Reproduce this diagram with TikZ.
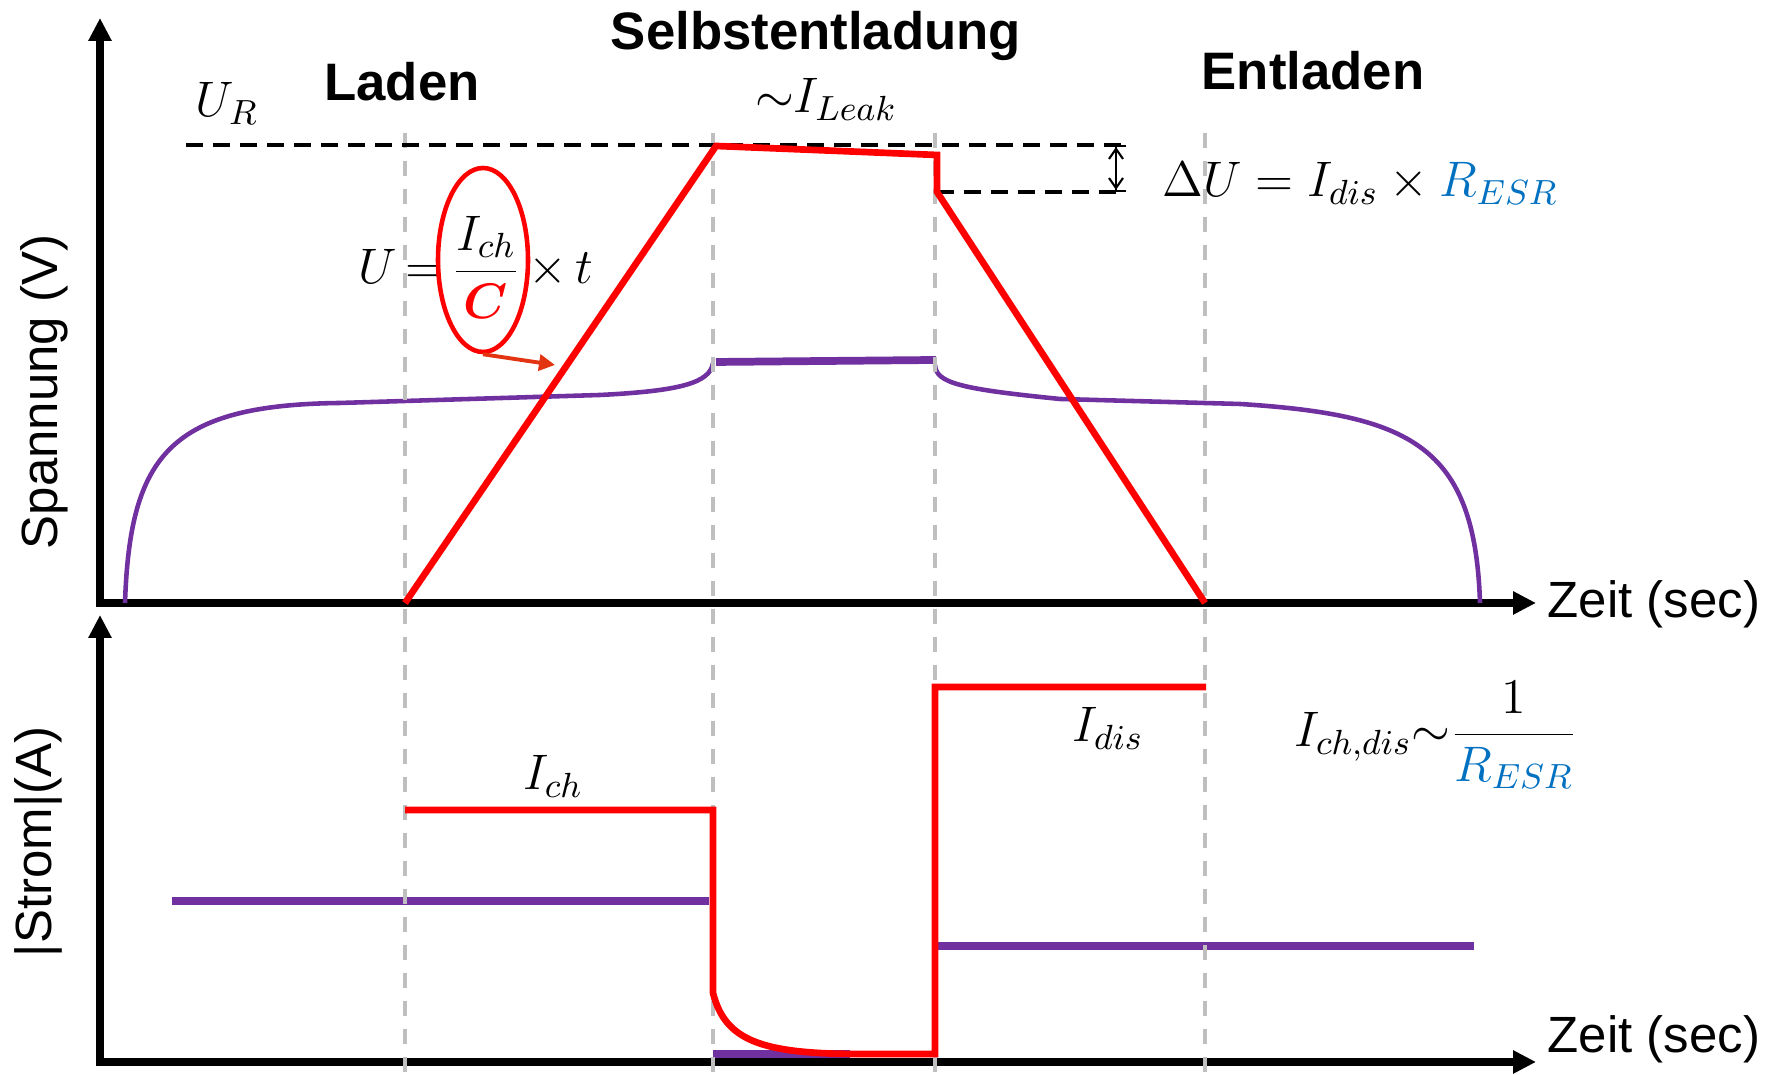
\documentclass[tikz,border=0pt]{standalone}
\usepackage{fix-cm}
\usepackage[no-math]{fontspec}
\setmainfont{Liberation Sans}
\usepackage{bm}
\usetikzlibrary{arrows.meta,shapes.geometric}
\definecolor{esrblue}{RGB}{0,112,192}
\definecolor{cappurple}{RGB}{112,48,160}
\definecolor{phasegray}{RGB}{191,191,191}
\definecolor{notered}{RGB}{226,52,16}

\begin{document}
\begin{tikzpicture}[scale=1]
    \tikzstyle{axis line} = [draw,line width=2.2pt,{Triangle[width=0.22cm,length=0.23cm]}-{Triangle[width=0.22cm,length=0.23cm]}]
    \tikzstyle{red curve} = [draw,line width=1.9pt,red]
    \tikzstyle{purple curve} = [draw,line width=1.3pt,cappurple]
    \tikzstyle{purple flat} = [draw,line width=2.2pt,cappurple]
    \tikzstyle{phase line} = [draw,line width=0.9pt,phasegray,dash pattern=on 0.15cm off 0.13cm]
    \tikzstyle{level line} = [draw,line width=1pt,black,dash pattern=on 0.17cm off 0.10cm]
    \tikzstyle{delta arrow} = [draw,line width=0.6pt,{Bar[width=0.19cm]Straight Barb[length=0.1cm,width=0.14cm]}-{Straight Barb[length=0.1cm,width=0.14cm]Bar[width=0.19cm]}]
    \tikzstyle{note arrow} = [draw,line width=1.1pt,notered,-{Triangle[width=0.16cm,length=0.16cm]}]
    \tikzstyle{axis label} = [inner sep=0pt,font=\fontsize{14.5}{17}\selectfont]
    \tikzstyle{phase title} = [inner sep=0pt,font=\fontsize{15}{18}\selectfont\bfseries]
    \tikzstyle{formula} = [inner sep=0pt,font=\fontsize{14.2}{17}\selectfont]

    \useasboundingbox (0,0) rectangle (17.72,10.75);

      \coordinate (o1) at (1.00,4.72);
      \coordinate (y1) at (1.00,10.57);
      \coordinate (x1) at (15.36,4.72);
      \coordinate (o2) at (1.00,0.13);
      \coordinate (y2) at (1.00,4.60);
      \coordinate (x2) at (15.36,0.13);

      \draw[axis line] (y1) -- (o1) -- (x1);
      \draw[axis line] (y2) -- (o2) -- (x2);

      \node[axis label,rotate=90] (uaxis) at (0.44,6.83) {Spannung (V)};
      \node[axis label,rotate=90] (iaxis) at (0.38,2.33) {|Strom|(A)};
      \node[axis label,anchor=base west] (time1) at (15.47,4.57) {Zeit (sec)};
      \node[axis label,anchor=base west] (time2) at (15.47,0.22) {Zeit (sec)};

      \node[phase title] (laden) at (4.02,9.93) {Laden};
      \node[phase title,anchor=base] (selbst) at (8.16,10.25) {Selbstentladung};
      \node[phase title] (entladen) at (13.13,10.04) {Entladen};

      \draw[purple curve] (1.25,4.72) .. controls (1.30,6.20) and (1.70,6.70) .. (3.40,6.72)
          -- (6.00,6.80) .. controls (6.80,6.84) and (7.10,6.92) .. (7.13,7.12);
      \draw[purple flat] (7.16,7.13) -- (9.36,7.15);
      \draw[purple curve] (9.35,7.10) .. controls (9.36,6.92) and (9.60,6.86) .. (10.60,6.76)
          -- (12.40,6.71) .. controls (14.10,6.60) and (14.75,6.30) .. (14.80,4.72);

      \draw[purple flat] (1.72,1.74) -- (7.09,1.74);
      \draw[purple flat] (7.13,0.21) -- (8.50,0.21);
      \draw[purple flat] (9.35,1.29) -- (14.74,1.29);

      \foreach \x in {4.05,7.13,9.35,12.05}
          \draw[phase line] (\x,9.42) -- (\x,0);

      \coordinate (ur0) at (1.86,9.30);
      \coordinate (ur1) at (11.26,9.30);
      \coordinate (du0) at (9.37,8.83);
      \coordinate (du1) at (11.26,8.83);
      \coordinate (dtop) at (11.16,9.30);
      \coordinate (dbot) at (11.16,8.83);
      \draw[level line] (ur0) -- (ur1);
      \draw[level line] (du0) -- (du1);
      \draw[delta arrow] (dtop) -- (dbot);

      \draw[red curve] (4.05,4.72) -- (7.16,9.29) -- (9.37,9.20) -- (9.37,8.83) -- (12.05,4.72);
      \draw[red curve] (4.05,2.65) -- (7.13,2.65) -- (7.13,0.82) .. controls (7.25,0.35) and (7.60,0.21) .. (8.60,0.21)
          -- (9.35,0.21) -- (9.35,3.88) -- (12.06,3.88);

      \node[formula,anchor=base] (ur) at (2.27,9.58) {$U_R$};
      \node[formula,anchor=base] (leak) at (8.26,9.62) {${\sim}I_{Leak}$};
      \node[formula,anchor=base west] (du) at (11.62,8.78) {$\Delta U = I_{dis} \times \textcolor{esrblue}{R_{ESR}}$};
      \node[formula,anchor=base] (uch) at (4.76,7.91) {$U\,{=}\,\displaystyle\frac{I_{ch}}{\textcolor{red}{\bm{C}}}\,{\times}\,t$};
      \node[draw=red,ellipse,line width=1.3pt,minimum width=0.9cm,minimum height=1.84cm] (ring) at (4.83,8.15) {};
      \coordinate (ramp) at (5.55,7.10);
      \draw[note arrow] (ring.south) -- (ramp);

      \node[formula,anchor=base] (ich) at (5.53,2.85) {$I_{ch}$};
      \node[formula,anchor=base] (idis) at (11.08,3.33) {$I_{dis}$};
      \node[formula,anchor=base] (esr) at (14.36,3.28) {$I_{ch,dis}{\sim}\displaystyle\frac{1}{\textcolor{esrblue}{R_{ESR}}}$};
    \end{tikzpicture}
\end{document}
